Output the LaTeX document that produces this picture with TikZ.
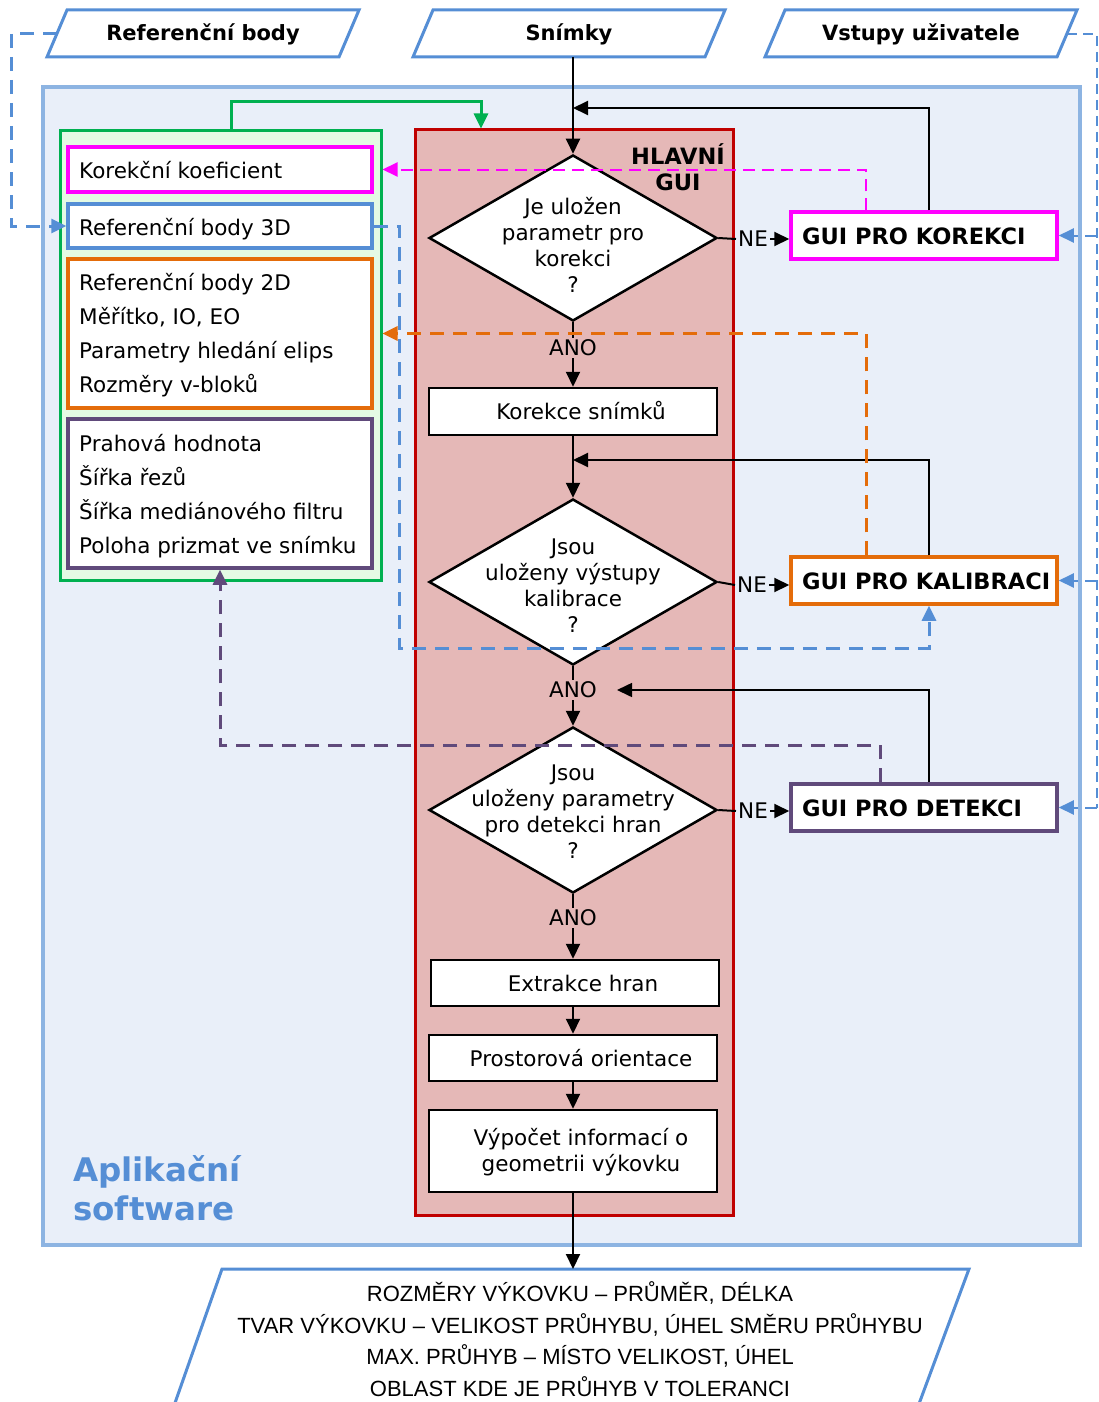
\documentclass[tikz,border=0pt]{standalone}
\usepackage{fontspec}
\setmainfont{DejaVu Sans}
\newfontfamily\outfont{Liberation Sans}
\usetikzlibrary{arrows.meta,shapes.geometric}

\definecolor{appfill}{RGB}{233,239,249}
\definecolor{appline}{RGB}{141,180,226}
\definecolor{accblue}{RGB}{85,142,213}
\definecolor{grp}{RGB}{0,176,80}
\definecolor{grpfill}{RGB}{228,250,228}
\definecolor{mag}{RGB}{255,0,255}
\definecolor{org}{RGB}{228,108,10}
\definecolor{pur}{RGB}{96,74,123}
\definecolor{guired}{RGB}{192,0,0}
\definecolor{guifill}{RGB}{229,184,183}

\begin{document}
\begin{tikzpicture}[x=1pt,y=-1pt,
  base/.style={font=\fontsize{21.5}{26}\selectfont},
  hdr/.style={font=\bfseries\fontsize{21}{26}\selectfont},
  ln/.style={line width=2pt},
  arr/.style={ln,-{Triangle[length=15pt,width=14pt]}},
  proc/.style={draw,line width=2.5pt,fill=white,minimum width=288pt,inner sep=0pt},
  dec/.style={diamond,draw,line width=2.5pt,fill=white,minimum width=288pt,minimum height=166pt,inner sep=0pt},
  guibox/.style={draw,line width=3.5pt,fill=white,minimum width=266pt,minimum height=47pt,inner sep=0pt},
  guitext/.style={anchor=west,inner sep=0pt,font=\bfseries\fontsize{22.5}{26}\selectfont},
  parbox/.style={draw,line width=3.5pt,fill=white,minimum width=304pt,inner sep=0pt},
  partext/.style={anchor=west,inner sep=0pt,align=left,font=\fontsize{21.5}{34}\selectfont},
  lbl/.style={base,inner sep=2pt},
  cdash/.style={line width=3pt,dash pattern=on 14pt off 9pt},
  thindash/.style={line width=2pt,dash pattern=on 12pt off 7pt},
  ctip/.style={-{Triangle[length=15pt,width=14pt]}},
  io/.style={draw=accblue,line width=3pt,fill=white},
]
\clip (0,0) rectangle (1098,1402);
\fill[white] (0,0) rectangle (1098,1402);

% application frame
\node[draw=appline,fill=appfill,line width=4pt,minimum width=1037pt,minimum height=1158pt,inner sep=0pt] (app) at (561.5,666) {};
\node[anchor=west,align=left,text=accblue,font=\bfseries\fontsize{32.5}{39}\selectfont,inner sep=0pt] (appname) at (73,1188) {Aplikační\\software};

% inputs
\draw[io] (67,10) -- (359,10) -- (339,57) -- (47,57) -- cycle;
\node[hdr] (refin) at (203,34) {Referenční body};
\draw[io] (433,10) -- (725,10) -- (705,57) -- (413,57) -- cycle;
\node[hdr] (snin) at (569,34) {Snímky};
\draw[io] (785,10) -- (1077,10) -- (1057,57) -- (765,57) -- cycle;
\node[hdr] (usrin) at (921,34) {Vstupy uživatele};
\coordinate (lpt) at (57,34);
\coordinate (rpt) at (1067,34);
\coordinate (snb) at (573,57);

% output
\draw[io] (222,1269) -- (969,1269) -- (913,1420) -- (169,1420) -- cycle;
\coordinate (outtop) at (573,1269);
\node[align=center,font=\outfont\fontsize{22}{31.5}\selectfont,inner sep=0pt] (outtxt) at (580,1339)
  {ROZMĚRY VÝKOVKU – PRŮMĚR, DÉLKA\\
   TVAR VÝKOVKU – VELIKOST PRŮHYBU, ÚHEL SMĚRU PRŮHYBU\\
   MAX. PRŮHYB – MÍSTO VELIKOST, ÚHEL\\
   OBLAST KDE JE PRŮHYB V TOLERANCI};

% stored parameters
\node[draw=grp,fill=grpfill,line width=3pt,minimum width=321pt,minimum height=449pt,inner sep=0pt] (grp) at (220.5,355.5) {};
\node[parbox,draw=mag,minimum height=45pt] (korbox) at (220,169.5) {};
\node[partext] (kortext) at (79,170.5) {Korekční koeficient};
\node[parbox,draw=accblue,minimum height=44pt] (ref3d) at (220,226) {};
\node[partext] (ref3dtext) at (79,229) {Referenční body 3D};
\node[parbox,draw=org,minimum height=149pt] (orgbox) at (220,333.5) {};
\node[partext] (orgtext) at (79,335.5)
  {Referenční body 2D\\Měřítko, IO, EO\\Parametry hledání elips\\Rozměry v-bloků};
\node[parbox,draw=pur,minimum height=149pt] (purbox) at (220,493.5) {};
\node[partext] (purtext) at (79,496.5)
  {Prahová hodnota\\Šířka řezů\\Šířka mediánového filtru\\Poloha prizmat ve snímku};

% main GUI
\node[draw=guired,fill=guifill,line width=3pt,minimum width=318pt,minimum height=1085pt,inner sep=0pt] (mainbox) at (574,672.5) {};
\node[align=center,inner sep=0pt,font=\bfseries\fontsize{22.5}{26}\selectfont] (maintitle) at (678,167) {HLAVNÍ\\GUI};

\node[dec] (d1) at (573,238) {};
\node[base,align=center,inner sep=0pt] (d1t) at (573,245) {Je uložen\\parametr pro\\korekci\\?};
\node[dec] (d2) at (573,582) {};
\node[base,align=center,inner sep=0pt] (d2t) at (573,586) {Jsou\\uloženy výstupy\\kalibrace\\?};
\node[dec] (d3) at (573,810) {};
\node[base,align=center,inner sep=0pt] (d3t) at (573,812) {Jsou\\uloženy parametry\\pro detekci hran\\?};

\node[proc,minimum height=47pt] (korekce) at (573,411.5) {};
\node[base] (korekcet) at (581,411) {Korekce snímků};
\node[proc,minimum height=46pt] (extr) at (575,983) {};
\node[base] (extrt) at (583,983) {Extrakce hran};
\node[proc,minimum height=46pt] (prost) at (573,1058) {};
\node[base] (prostt) at (581,1058) {Prostorová orientace};
\node[proc,minimum height=82pt] (vyp) at (573,1151) {};
\node[base,align=center] (vypt) at (581,1152) {Výpočet informací o\\geometrii výkovku};

\node[lbl] (ano1) at (573,348) {ANO};
\node[lbl] (ano2) at (573,690) {ANO};
\node[lbl] (ano3) at (573,918) {ANO};
\node[lbl] (ne1) at (753,239) {NE};
\node[lbl] (ne2) at (752,585) {NE};
\node[lbl] (ne3) at (753,811) {NE};

% dedicated GUIs
\node[guibox,draw=mag] (guik) at (924,235.5) {};
\node[guitext] (guiktext) at (802,236) {GUI PRO KOREKCI};
\node[guibox,draw=org] (guical) at (924,580.5) {};
\node[guitext] (guicaltext) at (802,581) {GUI PRO KALIBRACI};
\node[guibox,draw=pur] (guid) at (924,807.5) {};
\node[guitext] (guidtext) at (802,808) {GUI PRO DETEKCI};

% main flow
\coordinate (j1) at (573,108);
\coordinate (j2) at (573,460);
\coordinate (j3) at (617,690);
\draw[arr] (snb) -- (d1.north);
\draw[ln] (d1.south) -- (ano1.north);
\draw[arr] (ano1.south) -- (korekce.north);
\draw[arr] (korekce.south) -- (d2.north);
\draw[ln] (d2.south) -- (ano2.north);
\draw[arr] (ano2.south) -- (d3.north);
\draw[ln] (d3.south) -- (ano3.north);
\draw[arr] (ano3.south) -- (ano3.south |- extr.north);
\draw[arr] (extr.south -| d3.south) -- (prost.north);
\draw[arr] (prost.south) -- (vyp.north);
\draw[arr] (vyp.south) -- (outtop);

\draw[ln] (d1.east) -- (ne1.west);
\draw[arr] (ne1.east) -- (ne1.east -| guik.west);
\draw[ln] (d2.east) -- (ne2.west);
\draw[arr] (ne2.east) -- (ne2.east -| guical.west);
\draw[ln] (d3.east) -- (ne3.west);
\draw[arr] (ne3.east) -- (ne3.east -| guid.west);

% returns from the dedicated GUIs
\draw[arr] ([xshift=5pt]guik.north) |- (j1);
\draw[arr] ([xshift=5pt]guical.north) |- (j2);
\draw[arr,line width=1.6pt] ([xshift=5pt]guid.north) |- (j3);

% parameter hand-over
\draw[grp,line width=3pt,ctip] (grp.north -| 231,0) |- (481,102) -- (mainbox.north -| 481,0);
\draw[mag,thindash,ctip] ([xshift=-58pt]guik.north) |- (grp.east |- korbox.east);
\draw[org,cdash,ctip] ([xshift=-58pt]guical.north) |- (grp.east |- orgbox.east);
\draw[accblue,cdash,ctip] (ref3d.east) -| (399,648) -| ([xshift=5pt]guical.south);
\draw[pur,cdash,ctip] ([xshift=-44pt]guid.north) |- (purbox.south |- 0,745) -- (purbox.south);

% external inputs
\draw[accblue,cdash,ctip] (lpt) -- (11,34) |- (ref3d.west);
\draw[accblue,line width=1.6pt,dash pattern=on 10pt off 6pt] (rpt) -- (1097,34) -- (1097,808);
\draw[accblue,thindash,ctip] (guik.east -| 1097,0) -- (guik.east);
\draw[accblue,thindash,ctip] (guical.east -| 1097,0) -- (guical.east);
\draw[accblue,thindash,ctip] (guid.east -| 1097,0) -- (guid.east);
\end{tikzpicture}
\end{document}
